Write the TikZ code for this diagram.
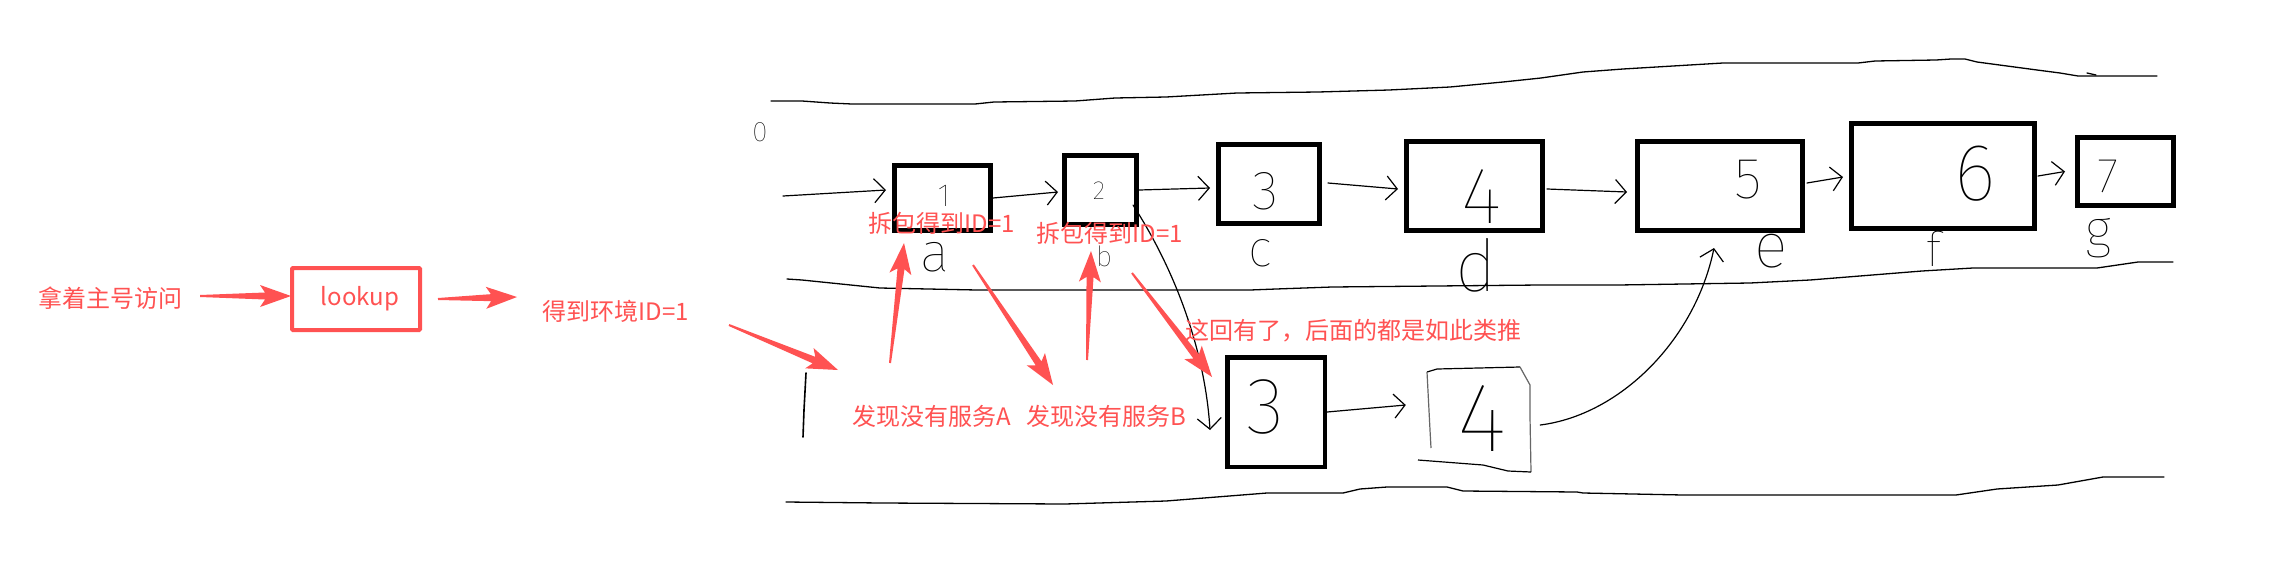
\documentclass[tikz,border=0pt]{standalone}
\usepackage{fontspec}
\newfontfamily\cjk{Noto Sans CJK SC}
\newfontfamily\handf{Fira Sans Thin}
\usetikzlibrary{arrows.meta,calc}
\definecolor{redc}{RGB}{255,82,82}
\newcommand\redarr[2]{%
  \fill[redc] ($(#1)!1pt!90:(#2)$)
    -- ($(#2)!26pt!(#1)!3.5pt!90:(#2)$)
    -- ($(#2)!31pt!(#1)!11pt!90:(#2)$)
    -- (#2)
    -- ($(#2)!31pt!(#1)!11pt!-90:(#2)$)
    -- ($(#2)!26pt!(#1)!3.5pt!-90:(#2)$)
    -- ($(#1)!1pt!-90:(#2)$) -- cycle;}
\tikzset{
  cn/.style={font=\cjk\fontsize{24}{28}\selectfont, text=redc, inner sep=0pt},
  hw/.style={font=\handf\fontsize{#1}{#1}\selectfont, inner sep=0pt, text=black},
  bbox/.style={draw=black, line width=5pt, inner sep=0pt},
  hline/.style={line width=1.3pt, line join=round, line cap=round},
  harr/.style={line width=1.2pt, line cap=round, -{Straight Barb[length=11pt,width=24pt]}},
}
\begin{document}
\begin{tikzpicture}[x=1pt,y=-1pt]
\useasboundingbox (0,0) rectangle (2289,574);
\fill[white] (0,0) rectangle (2289,574);

% ---------- left red part ----------
\node[cn] (tA) at (110,298) {拿着主号访问};
\node[draw=redc, line width=4pt, rounded corners=1pt, minimum width=128pt, minimum height=62pt,
      inner sep=0pt, font=\cjk\fontsize{24}{28}\selectfont, text=redc] (lk) at (356,299) {\hspace{8pt}lookup};
\node[cn] (tE) at (616,311) {得到环境ID=1};

\coordinate (r1a) at (200,296);
\coordinate (r2a) at (438,299);
\coordinate (r2b) at (517,297);
\coordinate (r3a) at (729,325);
\coordinate (r3b) at (838,370);
\redarr{r1a}{$(lk.west)+(1,-3)$}
\redarr{r2a}{r2b}
\redarr{r3a}{r3b}

% ---------- hand-drawn lanes ----------
\draw[hline] (771,101) -- (802,101) -- (830,103) -- (852,104) -- (975,104) -- (994,102) -- (1075,101)
  -- (1115,98) -- (1166,97) -- (1237,93) -- (1318,92) -- (1389,90) -- (1450,87) -- (1503,82)
  -- (1541,78) -- (1583,72) -- (1623,69) -- (1723,63) -- (1858,63) -- (1875,61) -- (1936,60)
  -- (1951,59) -- (1965,59) -- (1977,62) -- (2037,70) -- (2060,73) -- (2078,76) -- (2157,76);
\draw[hline] (2087,73) -- (2096,75);
\draw[hline] (787,279) -- (802,280) -- (880,288) -- (977,290) -- (1250,290) -- (1276,289)
  -- (1332,287) -- (1540,285) -- (1618,285) -- (1750,283) -- (1810,280) -- (1922,271)
  -- (1973,268) -- (2097,268) -- (2138,262) -- (2173,262);
\draw[hline] (786,502) -- (882,503) -- (1065,504) -- (1166,501) -- (1267,493) -- (1343,493)
  -- (1360,489) -- (1387,487) -- (1447,487) -- (1463,491) -- (1577,492) -- (1583,493)
  -- (1683,495) -- (1956,495) -- (1997,489) -- (2058,485) -- (2103,477) -- (2164,477);
\draw[hline, line width=1.6pt] (806,373) -- (804,410) -- (803,437);
\node[hw=28] (l0) at (760,132) {0};

% ---------- upper row of boxes ----------
\node[bbox, minimum width=96pt, minimum height=65pt] (B1) at (942.5,198) {};
\node[bbox, minimum width=72pt, minimum height=69pt] (B2) at (1100.5,190) {};
\node[bbox, minimum width=101pt, minimum height=79pt] (B3) at (1269,184) {};
\node[bbox, minimum width=136pt, minimum height=89pt] (B4) at (1474.5,186) {};
\node[bbox, minimum width=165pt, minimum height=89pt] (B5) at (1720,186) {};
\node[bbox, minimum width=183pt, minimum height=105pt] (B6) at (1943,176) {};
\node[bbox, minimum width=96pt, minimum height=68pt] (B7) at (2125.5,171.5) {};

\node[hw=32] (d1) at (944,196) {1};
\node[hw=26] (d2) at (1099,191) {2};
\node[hw=55] (d3) at (1266,191) {3};
\node[hw=80] (d4) at (1482,197) {4};
\node[hw=58] (d5) at (1748,180) {5};
\node[hw=81] (d6) at (1975,174) {6};
\node[hw=49] (d7) at (2108,176) {7};

\node[hw=55] (la) at (935,257) {a};
\node[hw=28] (lb) at (1104,256) {b};
\node[hw=51] (lc) at (1260,253) {c};
\node[hw=72] (ld) at (1476,265) {d};
\node[hw=63] (le) at (1771,251) {e};
\node[hw=48] (lf) at (1934,249) {f};
\node[hw=53] (lg) at (2098,238) {g};

\coordinate (in0) at (783,196);
\draw[harr] (in0) -- ($(B1.west)+(-6,-8)$);
\draw[harr] (B1.east) -- ($(B2.west)+(-4,2)$);
\draw[harr] (B2.east) -- ($(B3.west)+(-6,4)$);
\draw[harr] ($(B3.east)+(6,-1)$) -- ($(B4.west)+(-6,3)$);
\draw[harr] ($(B4.east)+(2,3)$) -- ($(B5.west)+(-8,6)$);
\draw[harr] ($(B5.east)+(2,-3)$) -- ($(B6.west)+(-6,1)$);
\draw[harr] ($(B6.east)+(1,0)$) -- ($(B7.west)+(-10,0)$);

% ---------- lower row ----------
\node[bbox, line width=4.5pt, minimum width=97.5pt, minimum height=109.5pt] (B3p) at (1276,412) {};
\node[hw=80] (d3p) at (1265,407) {3};
\node[minimum width=104pt, minimum height=104pt, inner sep=0pt] (B4p) at (1478,418) {};
\draw[line width=1.2pt] (1427,372) -- (1437,369) -- (1520,367);
\draw[line width=1.2pt, black!60] (1520,367) -- (1530,385) -- (1530,417) -- (1531,472);
\draw[line width=1.2pt] (1531,472) -- (1508,471) -- (1483,465) -- (1418,460);
\draw[line width=1.2pt, black!60] (1427,372) -- (1430,430) -- (1431,448);
\node[hw=98] (d4p) at (1482,419) {4};

\draw[harr] (B3p.east) -- ($(B4p.west)+(-20,-13)$);
\draw[harr] ($(B2.east)+(-6,15)$) .. controls (1175,270) and (1205,350) .. ($(B3p.west)+(-15,18)$);
\draw[harr] ($(B4p.east)+(10,7)$) .. controls (1620,415) and (1695,340) .. ($(B5.south)+(-6,15)$);

% ---------- red labels and arrows ----------
\node[cn] (tP1) at (942,223) {拆包得到ID=1};
\node[cn] (tP2) at (1110,233) {拆包得到ID=1};
\node[cn] (tFA) at (932,416) {发现没有服务A};
\node[cn] (tFB) at (1106,416) {发现没有服务B};
\node[cn] (tH) at (1353,331) {这回有了，后面的都是如此类推};

\coordinate (r4a) at (890,363);  \coordinate (r4b) at (904,243);
\coordinate (r5a) at (973,265);  \coordinate (r5b) at (1053,385);
\coordinate (r6a) at (1087,360); \coordinate (r6b) at (1091,251);
\coordinate (r7a) at (1132,273); \coordinate (r7b) at (1212,377);
\redarr{r4a}{r4b}
\redarr{r5a}{r5b}
\redarr{r6a}{r6b}
\redarr{r7a}{r7b}
\end{tikzpicture}
\end{document}
